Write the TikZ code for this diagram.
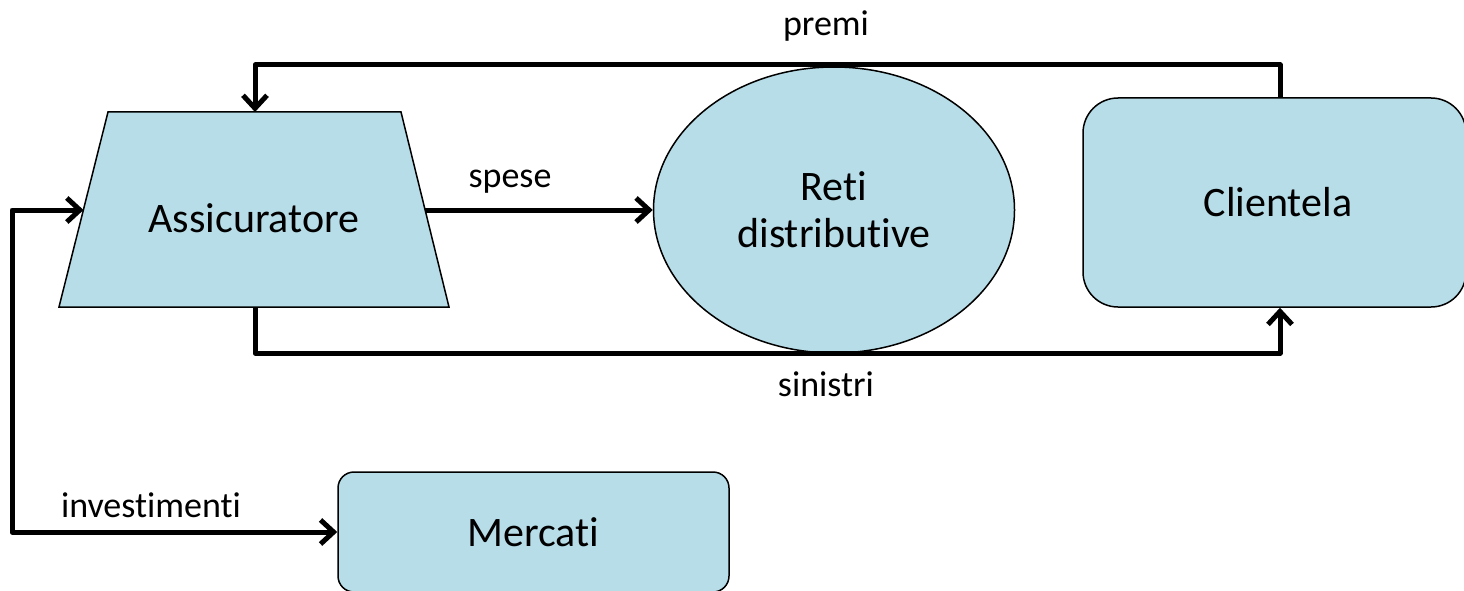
\documentclass[tikz,border=0pt]{standalone}
\usepackage{fontspec}
\setmainfont{Carlito}[RawFeature={-liga;-clig}]
\usetikzlibrary{arrows.meta,shapes.geometric}
\definecolor{boxfill}{RGB}{183,221,232}
\begin{document}
\begin{tikzpicture}[x=1pt,y=-1pt,
  shapebox/.style={draw=black, line width=1.5pt, fill=boxfill},
  tipbarb/.tip={Straight Barb[length=13pt,width=24pt,line width=5pt]},
  flow/.style={line width=5pt, line join=round, -tipbarb},
  bothflow/.style={line width=5pt, line join=round, tipbarb-tipbarb},
  bigtext/.style={font=\fontsize{42}{47}\selectfont, align=center},
  lbl/.style={font=\fontsize{36}{42}\selectfont}]
\useasboundingbox (0,0) rectangle (1464,591);

% insurer: trapezoid drawn as a polygon
\draw[shapebox] (108,112) -- (401,112) -- (449,307) -- (59,307) -- cycle;
\node[bigtext] (assic) at (254,218) {Assicuratore};
\coordinate (asTop) at (255,112);
\coordinate (asBot) at (255,307);
\coordinate (asL) at (83.5,210);
\coordinate (asR) at (425,210);

% distribution networks
\node[shapebox, ellipse, minimum width=361pt, minimum height=286pt, inner sep=0pt, bigtext] (reti) at (834,210) {Reti\\distributive};

% customers
\node[shapebox, rounded corners=35pt, minimum width=383pt, minimum height=209pt, bigtext] (cli) at (1274.5,202.5) {\hspace*{7pt}Clientela};
\coordinate (cliTop) at ([xshift=5.5pt]cli.north);
\coordinate (cliBot) at ([xshift=5.5pt]cli.south);

% markets
\node[shapebox, rounded corners=16pt, minimum width=391pt, minimum height=120pt, bigtext] (merc) at (533.5,532) {Mercati};

% premiums: customers -> insurer
\coordinate (premiBend) at (asTop |- 0,65);
\draw[flow] (cliTop) |- (premiBend) -- (asTop);
\node[lbl] (premi) at (826,26) {premi};

% claims: insurer -> customers
\coordinate (sinBend) at (cliBot |- 0,353);
\draw[flow] (asBot) |- (sinBend) -- (cliBot);
\node[lbl] (sinistri) at (826,384) {sinistri};

% expenses: insurer -> networks
\draw[flow] (asR) -- (reti.west);
\node[lbl] (spese) at (510,182) {spese};

% investments: insurer <-> markets
\coordinate (invTop) at (12,210);
\draw[bothflow] (asL) -- (invTop) |- (merc.west);
\node[lbl] (invest) at (151,505) {investimenti};
\end{tikzpicture}
\end{document}
